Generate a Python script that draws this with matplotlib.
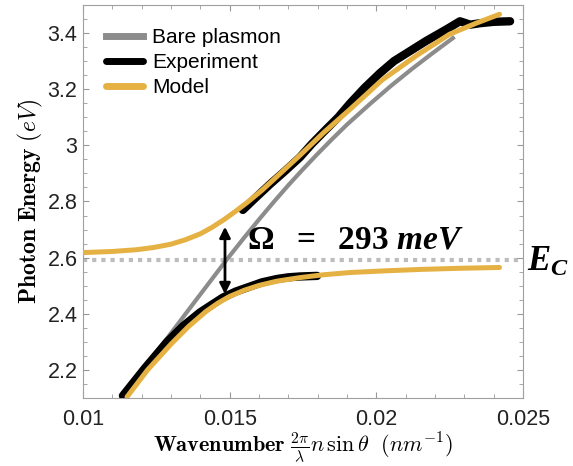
import numpy as np
import matplotlib
matplotlib.use("Agg")
import matplotlib.pyplot as plt
from matplotlib.ticker import MultipleLocator

plt.rcParams['font.family'] = ['Liberation Sans', 'DejaVu Sans']
plt.rcParams['mathtext.fontset'] = 'custom'
plt.rcParams['mathtext.rm'] = 'Liberation Serif:bold'
plt.rcParams['mathtext.bf'] = 'Liberation Serif:bold'
plt.rcParams['mathtext.it'] = 'Liberation Serif:bold:italic'

# bare plasmon dispersion
bare_k = [0.01143, 0.0125, 0.0137, 0.0149, 0.0155, 0.0160, 0.0165, 0.0170, 0.0175,
          0.0180, 0.0185, 0.0190, 0.0198, 0.0205, 0.0212, 0.0219, 0.02261]
bare_E = [2.112, 2.262, 2.428, 2.593, 2.672, 2.736, 2.798, 2.858, 2.915,
          2.970, 3.023, 3.074, 3.149, 3.212, 3.271, 3.327, 3.382]

# experiment, lower and upper branch
exp_lo_k = [0.01136, 0.0121, 0.01286, 0.0134, 0.01399, 0.0144, 0.01477, 0.0152,
            0.01569, 0.0161, 0.01661, 0.0170, 0.0174, 0.01798]
exp_lo_E = [2.108, 2.205, 2.299, 2.355, 2.405, 2.433, 2.458, 2.479,
            2.497, 2.512, 2.524, 2.530, 2.533, 2.535]
exp_up_k = [0.01545, 0.0159, 0.01638, 0.0169, 0.0174, 0.0178, 0.01825, 0.0187,
            0.0191, 0.0196, 0.02013, 0.0206, 0.02115, 0.0217, 0.02217, 0.0225,
            0.02285, 0.0232, 0.02353, 0.0240, 0.02456]
exp_up_E = [2.770, 2.815, 2.862, 2.910, 2.958, 3.005, 3.053, 3.100,
            3.149, 3.205, 3.258, 3.300, 3.336, 3.372, 3.400, 3.420,
            3.442, 3.430, 3.435, 3.440, 3.442]

# coupled model, lower and upper branch
mod_lo_k = [0.0115, 0.0122, 0.0130, 0.0136, 0.0142, 0.0146, 0.0150, 0.0155, 0.0160,
            0.0166, 0.0174, 0.0182, 0.0191, 0.0203, 0.0215, 0.0228, 0.0242]
mod_lo_E = [2.104, 2.200, 2.292, 2.355, 2.409, 2.438, 2.462, 2.484, 2.501,
            2.516, 2.529, 2.539, 2.547, 2.553, 2.558, 2.562, 2.565]
mod_up_k = [0.0100, 0.0110, 0.0118, 0.0124, 0.0130, 0.0135, 0.0140, 0.0144, 0.0148,
            0.0152, 0.0156, 0.0161, 0.0166, 0.0174, 0.0182, 0.0191, 0.0202, 0.0214,
            0.0225, 0.0234, 0.0242]
mod_up_E = [2.618, 2.622, 2.628, 2.636, 2.648, 2.664, 2.685, 2.708, 2.735,
            2.765, 2.797, 2.840, 2.888, 2.965, 3.045, 3.128, 3.233, 3.322,
            3.396, 3.435, 3.467]

E_c = 2.59
arrow_k = 0.01484
arrow_E = [2.46, 2.72]

gold = '#E5B143'
gray = '#8C8C8C'

fig = plt.figure(figsize=(5.73, 4.66), dpi=100)
ax = fig.add_axes([0.1449, 0.1459, 0.7678, 0.8434])

ax.axhline(E_c, color='#BDBDBD', lw=3, ls=(0, (1, 1.2)), zorder=1)

ax.plot(bare_k, bare_E, color=gray, lw=3, label='Bare plasmon', zorder=2)
ax.plot(exp_lo_k, exp_lo_E, color='black', lw=6, solid_capstyle='round',
        solid_joinstyle='round', label='Experiment', zorder=3)
ax.plot(exp_up_k, exp_up_E, color='black', lw=6, solid_capstyle='round',
        solid_joinstyle='round', zorder=3)
ax.plot(mod_lo_k, mod_lo_E, color=gold, lw=3.6, solid_capstyle='round', label='Model', zorder=4)
ax.plot(mod_up_k, mod_up_E, color=gold, lw=3.6, solid_capstyle='round', zorder=4)

ax.annotate('', xy=(arrow_k, arrow_E[1]), xytext=(arrow_k, arrow_E[0]),
            arrowprops=dict(arrowstyle='<|-|>', color='black', lw=2, mutation_scale=16),
            zorder=5)

ax.text(0.01927, 2.664, r'$\mathbf{\Omega\ \ =\ \ 293}\ meV$', fontsize=24,
        ha='center', va='center')
ax.text(0.02585, 2.586, r'$E_C$', fontsize=25, ha='center', va='center', clip_on=False)

ax.set_xlim(0.01, 0.025)
ax.set_ylim(2.1, 3.5)
ax.set_xticks([0.01, 0.015, 0.02, 0.025])
ax.set_xticklabels(['0.01', '0.015', '0.02', '0.025'])
ax.set_yticks([2.2, 2.4, 2.6, 2.8, 3.0, 3.2, 3.4])
ax.set_yticklabels(['2.2', '2.4', '2.6', '2.8', '3', '3.2', '3.4'])
ax.xaxis.set_minor_locator(MultipleLocator(0.001))
ax.yaxis.set_minor_locator(MultipleLocator(0.05))
ax.tick_params(which='both', direction='in', top=True, right=True, color='#999999')
ax.tick_params(which='major', length=4, labelsize=15.5, labelcolor='#222222')
ax.tick_params(axis='x', which='major', pad=8)
ax.tick_params(axis='y', which='major', pad=4)
ax.tick_params(which='minor', length=3)
for s in ax.spines.values():
    s.set_color('#A0A0A0')

ax.set_xlabel(r'$\mathbf{Wavenumber}\ \frac{2\pi}{\lambda}n\,\sin\theta\ \ (nm^{-1})$',
              fontsize=16, math_fontfamily='cm', labelpad=0)
ax.set_ylabel(r'$\mathbf{Photon\ Energy}\ (eV)$', fontsize=17, math_fontfamily='cm', labelpad=2)

leg = ax.legend(loc='upper left', frameon=False, fontsize=15, handlelength=1.8,
                handletextpad=0.4, labelspacing=0.3, borderaxespad=0.7)
for h in leg.legend_handles:
    h.set_linewidth(5)

fig.savefig('out.png', dpi=100)
